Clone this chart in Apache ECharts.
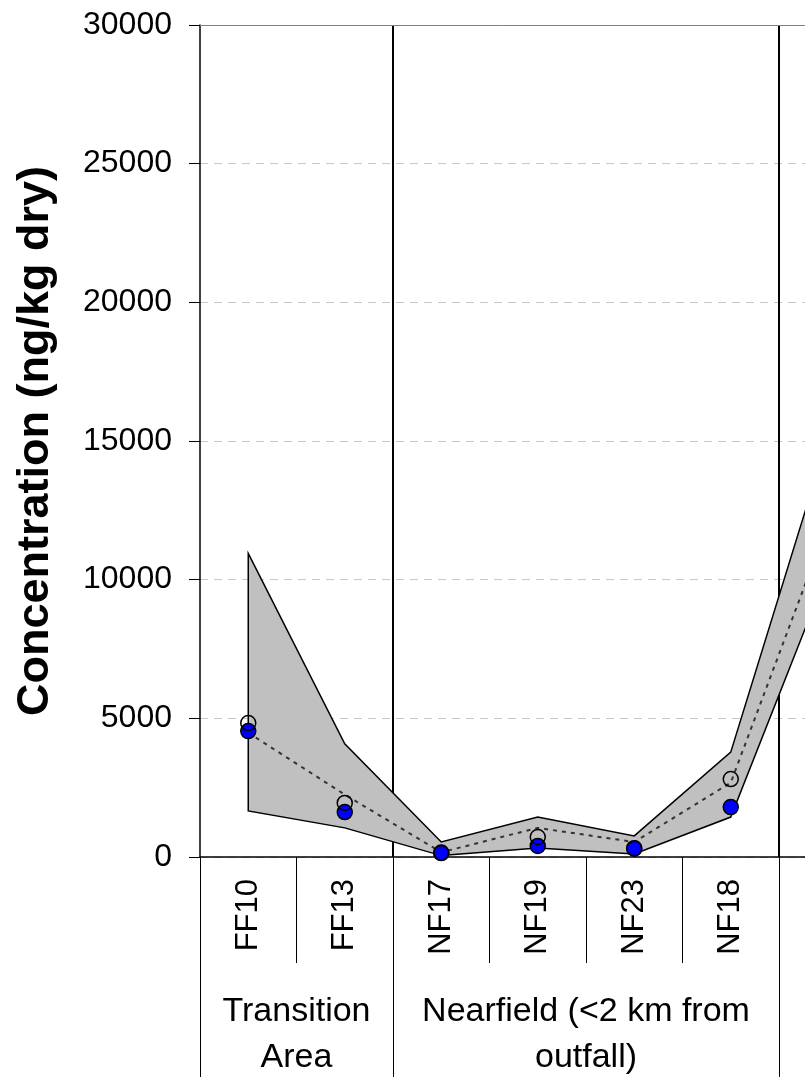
<!DOCTYPE html>
<html>
<head>
<meta charset="utf-8">
<script src="https://cdn.jsdelivr.net/npm/echarts@6/dist/echarts.min.js"></script>
<style>
html,body{margin:0;padding:0;background:#fff;}
#chart{width:805px;height:1090px;}
</style>
</head>
<body>
<div id="chart"></div>
<script>
// ---- data ----
const categories = ['FF10', 'FF13', 'NF17', 'NF19', 'NF23', 'NF18', ''];
const bandUpper = [10950, 4080, 540, 1440, 760, 3780, 15050];
const bandLower = [1660, 1050, 50, 320, 110, 1440, 10250];
const meanLine = [4480, 2250, 170, 1050, 540, 2680, 11950];
const bluePoints = [4540, 1620, 140, 400, 320, 1800, null];
const openPoints = [4830, 1950, 160, 720, 300, 2810, null];
const groups = [
  { label: 'Transition\nArea', first: 0, last: 1 },
  { label: 'Nearfield (<2 km from\noutfall)', first: 2, last: 5 }
];
const groupStarts = [0, 2, 6];
const yTicks = { min: 0, max: 30000, interval: 5000 };

const FONT = '"Liberation Sans", Arial, sans-serif';
const chart = echarts.init(document.getElementById('chart'));

const option = {
  animation: false,
  backgroundColor: '#ffffff',
  grid: { left: 200, top: 25, height: 832, width: 675.5, containLabel: false, outerBoundsMode: 'none' },
  xAxis: [
    {
      type: 'category', data: categories, position: 'bottom', boundaryGap: true,
      axisLine: { lineStyle: { color: '#000', width: 1.5 } },
      axisTick: { show: true, length: 106, interval: 0, lineStyle: { color: '#000', width: 1 } },
      axisLabel: { interval: 0, rotate: 90, margin: 22, fontSize: 31, color: '#000', fontFamily: FONT },
      splitLine: { show: true, interval: function (i) { return i === 2 || i === 6; },
                   lineStyle: { color: '#000', width: 2 } }
    },
    {
      type: 'category', data: categories, position: 'top', boundaryGap: true,
      axisLine: { show: true, lineStyle: { color: '#808080', width: 1 } },
      axisTick: { show: false }, axisLabel: { show: false }, splitLine: { show: false }
    },
    {
      type: 'category', data: categories, position: 'bottom', boundaryGap: true,
      axisLine: { show: false },
      axisTick: { show: true, length: 220, interval: function (i) { return groupStarts.indexOf(i) >= 0; },
                  lineStyle: { color: '#000', width: 1 } },
      axisLabel: { show: false }, splitLine: { show: false }
    }
  ],
  yAxis: {
    type: 'value', min: yTicks.min, max: yTicks.max, interval: yTicks.interval,
    name: 'Concentration (ng/kg dry)', nameLocation: 'middle', nameRotate: 90, nameGap: 142,
    nameTextStyle: { fontSize: 45, fontWeight: 'bold', color: '#000', fontFamily: FONT },
    axisLine: { show: true, lineStyle: { color: '#000', width: 1.5 } },
    axisTick: { show: true, length: 11, inside: false, lineStyle: { color: '#000', width: 1 } },
    axisLabel: { fontSize: 32, color: '#000', margin: 28, fontFamily: FONT,
                 formatter: function (v) { return String(v); } },
    splitLine: { show: true, lineStyle: { color: '#c8c8c8', width: 1, type: [8, 6] } }
  },
  series: [
    {
      type: 'custom', name: 'range', z: 1, clip: false,
      data: [[0, 0]],
      renderItem: function (params, api) {
        const pts = [];
        for (let i = 0; i < categories.length; i++) pts.push(api.coord([i, bandUpper[i]]));
        for (let i = categories.length - 1; i >= 0; i--) pts.push(api.coord([i, bandLower[i]]));
        return {
          type: 'polygon', shape: { points: pts },
          style: { fill: '#c0c0c0', stroke: '#000', lineWidth: 1.5, lineJoin: 'miter' }
        };
      }
    },
    {
      type: 'line', name: 'mean', data: meanLine, z: 3, symbol: 'none',
      lineStyle: { color: '#333333', width: 2, type: [4, 5] }
    },
    {
      type: 'scatter', name: 'blue', data: bluePoints, z: 4, symbol: 'circle', symbolSize: 15,
      itemStyle: { color: '#0000ff', borderColor: '#000', borderWidth: 1.5, opacity: 1 }
    },
    {
      type: 'scatter', name: 'open', data: openPoints, z: 5, symbol: 'circle', symbolSize: 15,
      itemStyle: { color: 'rgba(0,0,0,0)', borderColor: '#000', borderWidth: 1.5, opacity: 1 }
    }
  ]
};
chart.setOption(option);

// group labels placed from the axis scale
function addGroupLabels() {
  const y0 = chart.convertToPixel({ yAxisIndex: 0 }, 0);
  const els = groups.map(function (g) {
    const x1 = chart.convertToPixel({ xAxisIndex: 0 }, categories[g.first]);
    const x2 = chart.convertToPixel({ xAxisIndex: 0 }, categories[g.last]);
    return {
      type: 'text', x: (x1 + x2) / 2, y: y0 + 178, z: 10,
      style: { text: g.label, fontSize: 34, fontFamily: FONT, fill: '#000',
               align: 'center', verticalAlign: 'middle', lineHeight: 46 }
    };
  });
  chart.setOption({ graphic: els });
}
addGroupLabels();
</script>
</body>
</html>
